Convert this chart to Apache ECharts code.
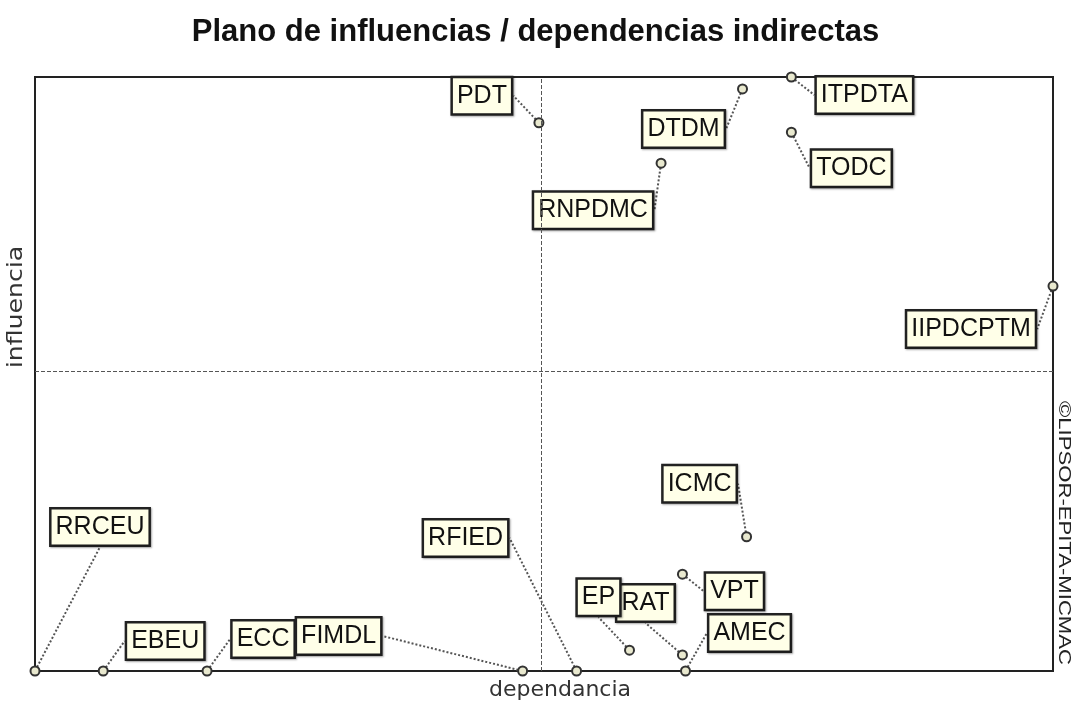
<!DOCTYPE html>
<html>
<head>
<meta charset="utf-8">
<script src="https://cdn.jsdelivr.net/npm/echarts@6/dist/echarts.min.js"></script>
<style>
  html, body { margin: 0; padding: 0; background: #fff; }
  #main { width: 1071px; height: 704px; }
</style>
</head>
<body>
<div id="main"></div>
<script>
var names = ['RRCEU', 'EBEU', 'ECC', 'FIMDL', 'RFIED', 'RAT', 'EP', 'AMEC', 'VPT', 'ICMC',
             'IIPDCPTM', 'PDT', 'DTDM', 'ITPDTA', 'TODC', 'RNPDMC'];
// dependencia (x) et influencia (y), en % de l'axe
var dependencia = [0, 6.7, 16.9, 47.9, 53.2, 63.6, 58.4, 63.9, 63.6, 69.9,
                   100, 49.5, 69.5, 74.3, 74.3, 61.5];
var influencia  = [0, 0, 0, 0, 0, 2.7, 3.5, 0, 16.3, 22.6,
                   64.8, 92.3, 98.0, 100, 90.7, 85.5];
var midX = 49.7;
var midY = 50.5;

// decalage des etiquettes (px) par rapport au point
var labelShift = {
    RRCEU: [65, -144], EBEU: [62, -30], ECC: [56, -32], FIMDL: [-184, -35],
    RFIED: [-111, -133], EP: [-31, -53], RAT: [-37, -52], AMEC: [64, -38],
    VPT: [52, 17], ICMC: [-47, -53], IIPDCPTM: [-82, 43], PDT: [-57, -27],
    DTDM: [-59, 40], ITPDTA: [73, 18], TODC: [60, 36], RNPDMC: [-68, 47]
};

var pts = names.map(function (n, i) {
    return { name: n, value: [dependencia[i], influencia[i]] };
});

var labelFont = '"Liberation Sans", Arial, sans-serif';

var myChart = echarts.init(document.getElementById('main'));

var option = {
    backgroundColor: '#ffffff',
    animation: false,
    title: {
        text: 'Plano de influencias / dependencias indirectas',
        left: 'center',
        top: 12,
        textStyle: {
            fontFamily: labelFont,
            fontWeight: 'bold',
            fontSize: 31,
            color: '#111'
        }
    },
    grid: {
        left: 35,
        right: 18,
        top: 77,
        bottom: 33,
        outerBoundsMode: 'none',
        show: true,
        borderColor: '#222',
        borderWidth: 2,
        backgroundColor: 'transparent'
    },
    xAxis: {
        type: 'value',
        min: 0,
        max: 100,
        axisLine: { show: false },
        axisTick: { show: false },
        axisLabel: { show: false },
        splitLine: { show: false }
    },
    yAxis: {
        type: 'value',
        min: 0,
        max: 100,
        axisLine: { show: false },
        axisTick: { show: false },
        axisLabel: { show: false },
        splitLine: { show: false }
    },
    graphic: [{
        type: 'text',
        x: 560,
        y: 690,
        style: {
            text: 'dependancia',
            font: '22px "DejaVu Sans", sans-serif',
            fill: '#333',
            align: 'center',
            verticalAlign: 'middle'
        }
    }, {
        type: 'text',
        x: 17,
        y: 307,
        rotation: Math.PI / 2,
        scaleX: 1.2,
        style: {
            text: 'influencia',
            font: '21px "DejaVu Sans", sans-serif',
            fill: '#333',
            align: 'center',
            verticalAlign: 'middle'
        }
    }, {
        type: 'text',
        x: 1064,
        y: 533,
        rotation: -Math.PI / 2,
        scaleX: 1.3,
        style: {
            text: '©LIPSOR-EPITA-MICMAC',
            font: '17px "Liberation Sans", sans-serif',
            fill: '#222',
            align: 'center',
            verticalAlign: 'middle'
        }
    }],
    series: [{
        type: 'scatter',
        data: pts,
        symbol: 'circle',
        symbolSize: 9,
        clip: false,
        itemStyle: {
            color: '#e9e9cf',
            borderColor: '#333',
            borderWidth: 2,
            opacity: 1
        },
        label: {
            show: true,
            position: 'inside',
            formatter: '{b}',
            fontFamily: labelFont,
            fontSize: 25,
            color: '#111',
            backgroundColor: '#ffffe8',
            borderColor: '#222',
            borderWidth: 2.5,
            padding: [6, 4, 4, 4],
            shadowColor: 'rgba(0,0,0,0.35)',
            shadowBlur: 2,
            shadowOffsetX: 1,
            shadowOffsetY: 1
        },
        labelLine: {
            show: true,
            lineStyle: { color: '#555', width: 2, type: 'dotted' }
        },
        labelLayout: function (p) {
            var s = labelShift[names[p.dataIndex]];
            return { dx: s[0], dy: s[1] };
        },
        markLine: {
            silent: true,
            symbol: 'none',
            label: { show: false },
            lineStyle: { color: '#555', type: 'dashed', width: 1 },
            data: [{ xAxis: midX }, { yAxis: midY }]
        },
        z: 3
    }]
};

myChart.setOption(option);
</script>
</body>
</html>
